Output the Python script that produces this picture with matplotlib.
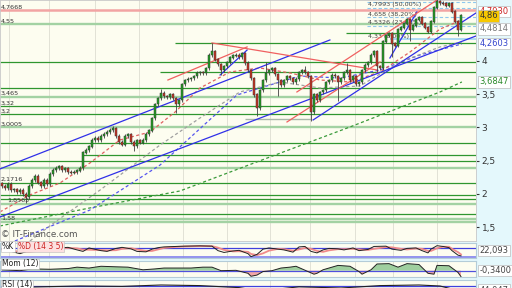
import numpy as np
import matplotlib
matplotlib.use("Agg")
import matplotlib.pyplot as plt

W, H = 512, 288

# daily closes (one candle per day)
closes = [2.12, 2.09, 2.15, 2.06, 2.07, 2.03, 2.06, 2.00, 1.95, 2.12,
          2.21, 2.27, 2.17, 2.12, 2.21, 2.15, 2.30, 2.36, 2.39, 2.41,
          2.36, 2.38, 2.33, 2.32, 2.33, 2.35, 2.39, 2.62, 2.66, 2.71,
          2.81, 2.84, 2.81, 2.87, 2.90, 2.93, 2.96, 2.98, 2.87, 2.78,
          2.74, 2.87, 2.89, 2.78, 2.72, 2.80, 2.77, 2.81, 2.90, 2.95,
          3.14, 3.35, 3.44, 3.52, 3.47, 3.46, 3.49, 3.44, 3.35, 3.41,
          3.65, 3.71, 3.73, 3.74, 3.77, 3.82, 3.83, 3.82, 3.89, 4.09,
          4.14, 4.02, 3.95, 3.86, 3.92, 3.98, 4.05, 4.08, 4.09, 4.06,
          4.11, 3.97, 3.86, 3.74, 3.49, 3.29, 3.56, 3.71, 3.82, 3.86,
          3.89, 3.80, 3.71, 3.64, 3.71, 3.77, 3.74, 3.68, 3.73, 3.83,
          3.86, 3.83, 3.77, 3.23, 3.50, 3.41, 3.53, 3.56, 3.68, 3.71,
          3.79, 3.77, 3.68, 3.74, 3.83, 3.86, 3.71, 3.77, 3.65, 3.68,
          3.86, 3.94, 3.98, 4.09, 4.14, 3.92, 3.89, 4.29, 4.38, 4.41,
          4.26, 4.23, 4.47, 4.50, 4.56, 4.62, 4.47, 4.53, 4.62, 4.65,
          4.56, 4.50, 4.44, 4.59, 4.80, 4.89, 4.87, 4.86, 4.83, 4.86,
          4.74, 4.59, 4.47, 4.68]
first_open = 2.16
low_spikes = {8: 1.86, 44: 2.64, 58: 3.22, 73: 3.79, 85: 3.17, 92: 3.48,
              103: 3.10, 112: 3.40, 125: 3.84, 130: 4.06, 136: 4.30, 152: 4.38}
high_spikes = {37: 3.02, 53: 3.58, 70: 4.27, 88: 3.98, 101: 3.92, 115: 3.97, 145: 4.93}
WICK = 0.025

# horizontal levels
red_level = 4.7668
light_levels = [4.55, 3.465, 3.0005, 2.386, 1.8563, 1.624, 1.58]
dark_levels = [4.417, 4.266, 3.99, 3.839, 3.589, 3.32, 3.20, 2.762, 2.586, 2.496,
               2.1716, 1.985, 1.92, 1.695]
dark_from = [115, 58, 0, 53, 0, 0, 0, 0, 27, 0, 0, 0, 0, 0]
support_level = 3.123
support_span = (81, 103)

level_labels = ['4,7668', '4,55', '3,465', '3,32', '3,2', '3,0005', '2,1716', '1,8563', '1,58']
level_label_vals = [4.7668, 4.55, 3.465, 3.32, 3.20, 3.0005, 2.1716, 1.8563, 1.58]
level_label_day = [-0.4, -0.4, -0.4, -0.4, -0.4, -0.4, -0.4, 1.6, -0.4]

# fibonacci retracement
fib_levels = [4.88, 4.7993, 4.658, 4.5326]
fib_texts = ['', '4,7993 (50,00%)', '4,658 (38,20%)', '4,5326 (23,60%)']
fib_start = 121.7
fib_base = 4.33
fib_base_text = '4,33 (0,00%)'

# trend lines (day0, price0, day1, price1)
blue_lines = [(-0.7, 2.376, 109.3, 4.316), (-0.7, 1.654, 158, 4.376),
              (103.7, 3.113, 158, 4.722), (72.7, 3.789, 81.7, 4.165),
              (129.3, 4.045, 138.3, 4.737)]
red_lines = [(55.3, 3.714, 81.7, 4.211), (70, 4.271, 125, 3.865),
             (98.3, 3.534, 145, 4.917), (95, 3.083, 126, 3.985)]

# moving averages (dashed), read at a few days
ma_red_d = [-0.7, 9.3, 19.3, 29.3, 39.3, 49.3, 57.7, 66, 76, 86, 96, 106, 116, 126, 136, 146, 153.3]
ma_red_v = [1.73, 1.985, 2.165, 2.466, 2.812, 2.932, 3.233, 3.594, 3.835, 3.895, 3.82,
            3.714, 3.684, 3.835, 4.135, 4.48, 4.617]
ma_gray_d = [9.3, 17.7, 32.7, 52.7, 66, 79.3, 92.7, 106, 119.3, 132.7, 146, 153.3]
ma_gray_v = [1.293, 1.579, 2.06, 2.737, 3.143, 3.534, 3.684, 3.594, 3.624, 3.985, 4.211, 4.286]
ma_blue_d = [4.3, 29.3, 52.7, 78.3, 99.3, 112.7, 126, 139.3, 153.3]
ma_blue_v = [1.293, 1.759, 2.436, 3.489, 3.774, 3.744, 3.865, 4.09, 4.256]
ma_green_d = [-0.7, 29.3, 59.3, 89.3, 116, 146, 153.3]
ma_green_v = [1.519, 1.79, 2.045, 2.556, 3.008, 3.534, 3.6847]

month_days = [2.3, 15.7, 31, 45.7, 60.3, 75, 89.3, 102.7, 117.7, 130.3, 145]

# stochastic
k_days = [0, 3, 6, 9, 13, 16, 19, 22, 25, 27, 29, 33, 35, 38, 40, 43, 45, 48, 50, 52,
          54, 58, 61, 66, 70, 72, 74, 77, 79, 82, 83, 85, 87, 89, 92, 94, 97, 99, 101, 103,
          105, 107, 109, 112, 114, 117, 119, 122, 124, 128, 130, 133, 135, 138, 140, 142, 143, 145, 147, 149,
          150, 152, 153]
k_vals = [70, 55, 40, 60, 75, 70, 78, 82, 65, 55, 78, 60, 55, 75, 82, 72, 55, 52, 70, 80,
          85, 88, 90, 92, 90, 60, 48, 58, 62, 40, 20, 35, 70, 78, 70, 65, 50, 85, 88, 55,
          45, 65, 75, 72, 65, 78, 60, 68, 88, 90, 70, 62, 75, 78, 60, 45, 70, 93, 88, 80,
          60, 30, 25]
d_vals = [68, 62, 52, 52, 62, 70, 74, 78, 75, 67, 66, 64, 62, 63, 72, 76, 68, 58, 58, 68,
          78, 85, 88, 90, 90, 80, 65, 55, 56, 52, 38, 30, 42, 60, 72, 70, 60, 68, 78, 72,
          58, 52, 62, 70, 70, 72, 68, 65, 72, 84, 82, 72, 68, 74, 72, 58, 58, 76, 86, 86,
          72, 50, 35]

# momentum
mom_days = [0, 6, 10, 16, 22, 25, 29, 33, 38, 42, 47, 51, 54, 59, 63, 67, 70, 73, 78, 82,
            83, 85, 87, 90, 93, 96, 98, 102, 104, 105, 107, 112, 116, 119, 120, 123, 125, 129, 132, 135,
            139, 142, 144, 145, 149, 152, 153]
mom_vals = [0.05, 0.0, 0.10, 0.08, 0.12, 0.20, 0.15, 0.25, 0.22, 0.20, 0.05, 0.10, 0.15, 0.15, 0.15,
            0.20, 0.20, 0.0, 0.02, -0.15, -0.32, -0.25, -0.05, 0.0, 0.15, 0.20, 0.25, -0.05, -0.20, -0.15,
            0.05, 0.30, 0.25, -0.05, -0.20, 0.05, 0.38, 0.40, 0.20, 0.40, 0.35, -0.15, -0.20, 0.30, 0.28,
            -0.10, -0.34]

# rsi
rsi_days = [0, 13, 26, 40, 53, 66, 79, 86, 99, 113, 126, 139, 146, 153]
rsi_vals = [62, 66, 70, 68, 75, 72, 62, 45, 66, 60, 72, 75, 70, 44]

BG = '#fdfdf0'
STRIP = '#e4f8fc'
DARKG = '#2f962f'
LIGHTG = '#a3d2a3'

fig = plt.figure(figsize=(W / 100, H / 100), dpi=100, facecolor=STRIP)


def px_axes(top, bottom):
    return fig.add_axes([0, 1 - bottom / H, 476 / W, (bottom - top) / H])


XL = (-0.67, 158.0)
ax = px_axes(0, 241)
ax.set_facecolor(BG)
ax.set_xlim(*XL)
ax.set_ylim(1.293, 4.917)

for d in month_days:
    ax.axvline(d, color='#e2e2d6', lw=0.7, zorder=0)

ax.axhline(red_level, color='#f2a4a4', lw=1.8, zorder=1)
for lv in light_levels:
    ax.axhline(lv, color=LIGHTG, lw=1.7, zorder=1)
for lv, d0 in zip(dark_levels, dark_from):
    ax.hlines(lv, d0 - 0.5 if d0 > 0 else XL[0], XL[1], color=DARKG, lw=0.9, zorder=1)
ax.hlines(support_level, support_span[0], support_span[1], color='#a8b8a8', lw=1.0, zorder=1)

for lab, v, d in zip(level_labels, level_label_vals, level_label_day):
    ax.text(d, v + 0.01, lab, fontsize=4.6, color='#333333', va='bottom', ha='left', zorder=6)

for lv, t in zip(fib_levels, fib_texts):
    ax.hlines(lv, fib_start, XL[1], color='#8ec8ee', lw=0.8, ls=(0, (3, 2)), zorder=1)
    if t:
        ax.text(fib_start + 0.3, lv + 0.005, t, fontsize=4.6, color='#444444', va='bottom', zorder=2)
ax.hlines(fib_base, 129.3, XL[1], color='#9fd4f4', lw=1.2, zorder=1)
ax.text(fib_start + 0.3, fib_base + 0.005, fib_base_text, fontsize=4.6, color='#444444', va='bottom', zorder=2)

ax.plot(ma_green_d, ma_green_v, color='#3a9a3a', lw=0.9, ls=(0, (2.5, 2)), zorder=2)
ax.plot(ma_blue_d, ma_blue_v, color='#5555ee', lw=0.9, ls=(0, (2.5, 2)), zorder=2)
ax.plot(ma_gray_d, ma_gray_v, color='#a0a0a0', lw=0.9, ls=(0, (2.5, 2)), zorder=2)
ax.plot(ma_red_d, ma_red_v, color='#e06060', lw=0.9, ls=(0, (2.5, 2)), zorder=2)

for x0, p0, x1, p1 in blue_lines:
    ax.plot([x0, x1], [p0, p1], color='#3030e8', lw=0.9, zorder=3)
for x0, p0, x1, p1 in red_lines:
    ax.plot([x0, x1], [p0, p1], color='#f06060', lw=0.9, zorder=3)

c = np.array(closes)
days = np.arange(len(c))
o = np.r_[first_open, c[:-1]]
hi = np.maximum(o, c) + WICK
lo = np.minimum(o, c) - WICK
for d, v in high_spikes.items():
    hi[d] = v
for d, v in low_spikes.items():
    lo[d] = v
up = c >= o
ax.vlines(days, lo, hi, color='#404040', lw=0.6, zorder=4)
ax.bar(days, np.abs(c - o) + 0.006, bottom=np.minimum(o, c), width=0.62,
       color=np.where(up, '#22a022', '#cc3322'), edgecolor='#333333', linewidth=0.35, zorder=5)

ax.text(-0.3, 1.33, '\u00a9 IT-Finance.com', fontsize=6.3, color='#555555', va='bottom', zorder=6)

ax.yaxis.tick_right()
ax.set_yticks([1.5, 2, 2.5, 3, 3.5, 4])
ax.set_yticklabels(['1,5', '2', '2,5', '3', '3,5', '4'])
ax.tick_params(axis='y', labelsize=6.5, length=2.5, pad=1.5, colors='#333333')
ax.set_xticks([])
for s in ax.spines.values():
    s.set_color('#c8c8c8')
    s.set_linewidth(0.6)


def side_label(a, val, txt, fc='white', tc='#444444'):
    a.annotate(txt, xy=(1, val), xycoords=('axes fraction', 'data'), xytext=(2.5, 0),
               textcoords='offset points', fontsize=6, color=tc, va='center', ha='left',
               annotation_clip=False,
               bbox=dict(boxstyle='square,pad=0.15', fc=fc, ec='#bbbbbb', lw=0.5))


side_label(ax, 4.745, '4,7930', tc='#cc2222')
side_label(ax, closes[-1], '4,86', fc='#f6c800', tc='#333333')
side_label(ax, 4.4814, '4,4814', tc='#777777')
side_label(ax, 4.2603, '4,2603', tc='#3344cc')
side_label(ax, 3.6847, '3,6847', tc='#2a8a2a')

# stochastic panel
ax2 = px_axes(243, 258)
ax2.set_facecolor(BG)
ax2.set_xlim(*XL)
ax2.set_ylim(11, 111)
for d in month_days:
    ax2.axvline(d, color='#e2e2d6', lw=0.7, zorder=0)
ax2.axhline(80, color='#4040dd', lw=0.9)
ax2.axhline(20, color='#8080ee', lw=1.2)
ax2.plot(k_days, d_vals, color='#f08a8a', lw=1.3)
ax2.plot(k_days, k_vals, color='#222222', lw=0.7)
ax2.text(0, 90, '%K', fontsize=5.5, color='#222222', va='center',
         bbox=dict(boxstyle='square,pad=0.12', fc='white', ec='#bbbbbb', lw=0.4))
ax2.text(5.2, 90, '%D (14 3 5)', fontsize=5.5, color='#cc2222', va='center',
         bbox=dict(boxstyle='square,pad=0.12', fc='#fde0e0', ec='#bbbbbb', lw=0.4))
side_label(ax2, 62, '22,093')

# momentum panel
ax3 = px_axes(261, 277)
ax3.set_facecolor(BG)
ax3.set_xlim(*XL)
ax3.set_ylim(-0.36, 0.55)
for d in month_days:
    ax3.axvline(d, color='#e2e2d6', lw=0.7, zorder=0)
mv = np.array(mom_vals)
ax3.fill_between(mom_days, mv, 0, where=mv >= 0, interpolate=True, color='#9fcf9f', lw=0)
ax3.fill_between(mom_days, mv, 0, where=mv <= 0, interpolate=True, color='#f2a8a8', lw=0)
ax3.axhline(0, color='#5050dd', lw=0.9)
ax3.plot(mom_days, mom_vals, color='#222222', lw=0.7)
ax3.text(0, 0.38, 'Mom (12)', fontsize=5.5, color='#222222', va='center',
         bbox=dict(boxstyle='square,pad=0.12', fc='white', ec='#bbbbbb', lw=0.4))
side_label(ax3, 0.0, '-0,3400')

# rsi panel
ax4 = px_axes(280, 300)
ax4.set_facecolor(BG)
ax4.set_xlim(*XL)
ax4.set_ylim(0, 100)
for d in month_days:
    ax4.axvline(d, color='#e2e2d6', lw=0.7, zorder=0)
ax4.axhline(70, color='#4040dd', lw=0.9)
ax4.plot(rsi_days, rsi_vals, color='#222222', lw=0.8)
ax4.text(0, 75, 'RSI (14)', fontsize=5.5, color='#222222', va='center',
         bbox=dict(boxstyle='square,pad=0.12', fc='white', ec='#bbbbbb', lw=0.4))
side_label(ax4, 50, '44,047')

for a in (ax2, ax3, ax4):
    a.set_xticks([])
    a.set_yticks([])
    for s in a.spines.values():
        s.set_color('#b4ccd8')
        s.set_linewidth(0.8)

fig.savefig('out.png', dpi=100, facecolor=fig.get_facecolor())
